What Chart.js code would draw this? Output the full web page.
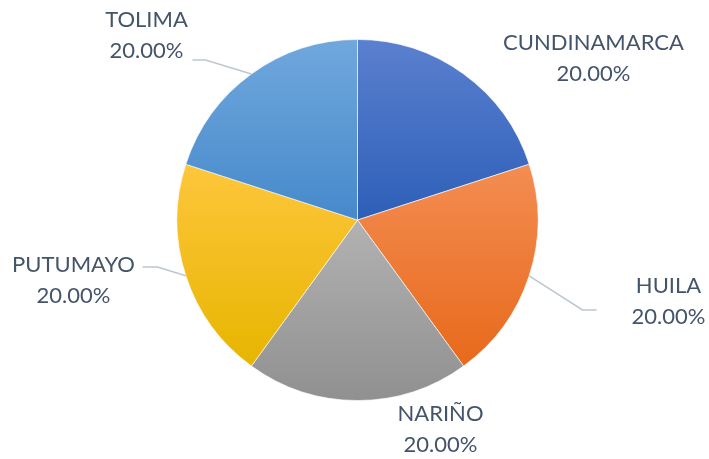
<!DOCTYPE html>
<html>
<head>
<meta charset="utf-8">
<script src="https://cdn.jsdelivr.net/npm/chart.js@4"></script>
<style>
html,body{margin:0;padding:0;background:#fff;}
#wrap{width:709px;height:459px;position:relative;}
</style>
</head>
<body>
<div id="wrap"><canvas id="c" width="709" height="459"></canvas></div>
<script>
// ---- data ----
const categories = ['CUNDINAMARCA', 'HUILA', 'NARIÑO', 'PUTUMAYO', 'TOLIMA'];
const values = [20, 20, 20, 20, 20];

// ---- styles ----
const topColors = ['#5b80cf', '#f38d52', '#b2b2b2', '#fec63c', '#70a8dd'];
const bottomColors = ['#2d5fb8', '#e8691b', '#909090', '#e7b500', '#4689cb'];
// label block centre offsets from pie centre (px)
const labelOffsets = [[236, -162], [311, 81], [83, 209], [-284, 60], [-211, -185]];
// leader lines: elbow offset from pie centre, horizontal tail length (null = no line)
const leaderElbows = [null, [225, 90, 14], null, [-200, 47, -15], [-152, -160, -13]];

const total = values.reduce((a, b) => a + b, 0);

function sliceGradient(ctx) {
  const chart = ctx.chart;
  const ca = chart.chartArea;
  if (!ca) return topColors[ctx.dataIndex];
  const cx = (ca.left + ca.right) / 2, cy = (ca.top + ca.bottom) / 2;
  const r = Math.min(ca.right - ca.left, ca.bottom - ca.top) / 2;
  let acc = 0;
  for (let k = 0; k < ctx.dataIndex; k++) acc += values[k];
  const a0 = -Math.PI / 2 + acc / total * 2 * Math.PI;
  const a1 = a0 + values[ctx.dataIndex] / total * 2 * Math.PI;
  const ys = [cy, cy + r * Math.sin(a0), cy + r * Math.sin(a1)];
  const inArc = a => { let t = a; while (t < a0) t += 2 * Math.PI; return t <= a1; };
  if (inArc(-Math.PI / 2)) ys.push(cy - r);
  if (inArc(Math.PI / 2)) ys.push(cy + r);
  const y0 = Math.min(...ys), y1 = Math.max(...ys);
  const g = chart.ctx.createLinearGradient(0, y0, 0, y1);
  g.addColorStop(0, topColors[ctx.dataIndex]);
  g.addColorStop(1, bottomColors[ctx.dataIndex]);
  return g;
}

const labelPlugin = {
  id: 'pieLabels',
  afterDatasetsDraw(chart) {
    const meta = chart.getDatasetMeta(0);
    const c = chart.ctx;
    c.save();
    meta.data.forEach((arc, i) => {
      const cx = arc.x, cy = arc.y, r = arc.outerRadius;
      const mid = (arc.startAngle + arc.endAngle) / 2;
      const le = leaderElbows[i];
      if (le) {
        c.beginPath();
        c.strokeStyle = '#bcc6d3';
        c.lineWidth = 1.5;
        c.moveTo(cx + r * Math.cos(mid), cy + r * Math.sin(mid));
        c.lineTo(cx + le[0], cy + le[1]);
        c.lineTo(cx + le[0] + le[2], cy + le[1]);
        c.stroke();
      }
      const off = labelOffsets[i];
      const lx = cx + off[0], ly = cy + off[1];
      c.fillStyle = '#44546a';
      c.font = '22px Lato';
      c.textAlign = 'center';
      c.textBaseline = 'middle';
      c.fillText(categories[i], lx, ly - 15.5);
      c.fillText((values[i] / total * 100).toFixed(2) + '%', lx, ly + 15.5);
    });
    c.restore();
  }
};

new Chart(document.getElementById('c'), {
  type: 'pie',
  data: {
    labels: categories,
    datasets: [{
      data: values,
      backgroundColor: sliceGradient,
      borderColor: 'rgba(255,255,255,0.6)',
      borderWidth: 1
    }]
  },
  options: {
    responsive: false,
    animation: false,
    layout: { padding: { left: 176.5, right: 170.5, top: 39, bottom: 58 } },
    plugins: { legend: { display: false }, tooltip: { enabled: false } }
  },
  plugins: [labelPlugin]
});
</script>
</body>
</html>
